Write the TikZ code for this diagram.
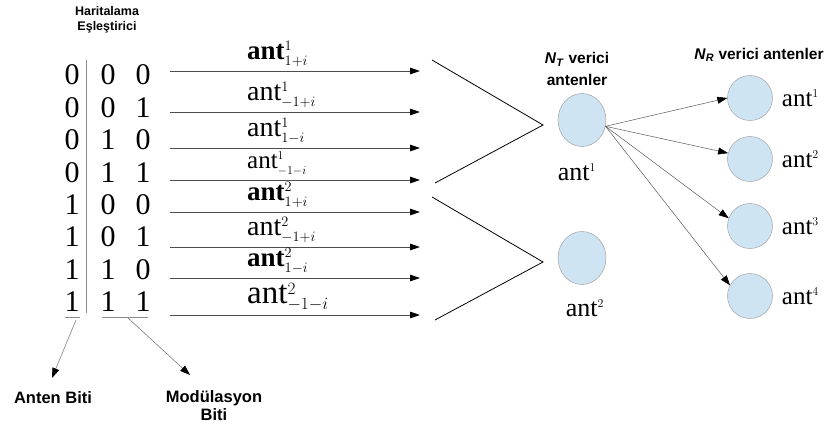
\documentclass[tikz,border=0pt]{standalone}
\usepackage{fontspec}
\setmainfont{Liberation Serif}
\setsansfont{Liberation Sans}
\usetikzlibrary{arrows.meta,shapes.geometric}

\definecolor{antfill}{RGB}{207,228,242}
\definecolor{antedge}{RGB}{150,150,150}

% antenna symbol with small indices
\newcommand{\antsym}[2]{ant$^{\scriptscriptstyle #1}_{\scriptscriptstyle #2}$}
\newcommand{\antup}[1]{ant$^{\scriptscriptstyle #1}$}

\tikzset{
  title/.style={font=\sffamily\bfseries\fontsize{12.5}{15}\selectfont, align=center, inner sep=0pt},
  head/.style={font=\sffamily\bfseries\fontsize{15.5}{22}\selectfont, align=center, inner sep=0pt},
  note/.style={font=\sffamily\bfseries\fontsize{16.5}{18}\selectfont, align=center, inner sep=0pt},
  bit/.style={font=\fontsize{30}{30}\selectfont, inner sep=0pt},
  lab/.style={font=\fontsize{28}{28}\selectfont, inner sep=0pt},
  labbold/.style={font=\fontsize{27}{27}\selectfont\bfseries, inner sep=0pt},
  labsmall/.style={font=\fontsize{25}{25}\selectfont, inner sep=0pt},
  labbig/.style={font=\fontsize{33}{33}\selectfont, inner sep=0pt},
  antname/.style={font=\fontsize{26}{26}\selectfont, inner sep=0pt},
  txant/.style={ellipse, draw=antedge, fill=antfill, minimum width=48pt, minimum height=53pt},
  rxant/.style={circle, draw=antedge, fill=antfill, minimum size=45pt, inner sep=0pt},
  bar/.style={draw=black!45, line width=1pt},
  maparrow/.style={draw=black!70, line width=0.8pt, -{Triangle[length=10pt,width=6.5pt,black]}},
  fanarrow/.style={draw=black!65, line width=0.5pt, -{Triangle[length=10pt,width=7pt,black]}},
  pointer/.style={draw=black!50, line width=0.6pt, -{Triangle[length=10pt,width=7pt,black]}},
  vline/.style={draw=black, line width=0.8pt}
}

\begin{document}
\begin{tikzpicture}[x=1pt,y=-1pt]
  \useasboundingbox (0,0) rectangle (826,425);

  % Mapper title
  \node[title] (mapper) at (107,20) {Haritalama\\Eşleştirici};

  % Bit table (antenna bit | modulation bits)
  \foreach \k/\a/\b/\c in {0/0/0/0,1/0/0/1,2/0/1/0,3/0/1/1,4/1/0/0,5/1/0/1,6/1/1/0,7/1/1/1} {
    \node[bit] (bit-\k-0) at (72,{75+32.4*\k}) {\a};
    \node[bit] (bit-\k-1) at (108,{75+32.4*\k}) {\b};
    \node[bit] (bit-\k-2) at (143,{75+32.4*\k}) {\c};
  }
  \draw[bar] (86,60) -- (86,313);
  \draw[bar] (65,317) -- (80,317);
  \draw[bar] (102,317) -- (148,317);

  % Pointers to the bit groups
  \coordinate (ua) at (76,320);
  \coordinate (um) at (128,318);
  \coordinate (uatip) at (52,378);
  \coordinate (umtip) at (190,375);
  \node[note] (antbit) at (53,398) {Anten Biti};
  \node[note] (modbit) at (214,406) {Modülasyon\\Biti};
  \draw[pointer] (ua) -- (uatip);
  \draw[pointer] (um) -- (umtip);

  % Mapped symbols
  \foreach \k/\ya/\sty/\txt in {
      0/71/labbold/{\antsym{1}{1+i}},
      1/112/lab/{\antsym{1}{-1+i}},
      2/148/lab/{\antsym{1}{1-i}},
      3/180/labsmall/{\antsym{1}{-1-i}},
      4/212/labbold/{\antsym{2}{1+i}},
      5/247/lab/{\antsym{2}{-1+i}},
      6/278/labbold/{\antsym{2}{1-i}},
      7/315/labbig/{\antsym{2}{-1-i}}} {
    \coordinate (s-\k) at (170,\ya);
    \coordinate (e-\k) at (420,\ya);
    \draw[maparrow] (s-\k) -- (e-\k);
    \node[\sty, anchor=base west] (sym-\k) at (247,{\ya-11.5}) {\txt};
  }

  % Grouping towards the transmit antennas
  \coordinate (v1a) at (432,60);
  \coordinate (v1c) at (543,125);
  \coordinate (v1b) at (435,183);
  \coordinate (v2a) at (432,197);
  \coordinate (v2c) at (543,262);
  \coordinate (v2b) at (435,320);
  \draw[vline] (v1a) -- (v1c) -- (v1b);
  \draw[vline] (v2a) -- (v2c) -- (v2b);

  % Transmit antennas
  \node[head] (nt) at (577,69) {\textit{N}\textsubscript{\textit{T}} verici\\antenler};
  \node[txant] (tx1) at (582,120) {};
  \node[txant] (tx2) at (582,258) {};
  \node[antname] (tx1-lab) at (577,172) {\antup{1}};
  \node[antname] (tx2-lab) at (585,308) {\antup{2}};

  % Receive antennas
  \node[head] (nr) at (759,55) {\textit{N}\textsubscript{\textit{R}} verici antenler};
  \foreach \k/\y in {1/98,2/159,3/226,4/296} {
    \node[rxant] (rx\k) at (750,\y) {};
    \node[antname, anchor=west, font=\fontsize{25}{25}\selectfont] (rx\k-lab) at ([xshift=9pt]rx\k.east) {\antup{\k}};
  }
  \draw[fanarrow] (tx1.-15) -- (rx1.west);
  \draw[fanarrow] (tx1.-15) -- (rx2.165);
  \draw[fanarrow] (tx1.-15) -- (rx3.160);
  \draw[fanarrow] (tx1.-15) -- (rx4.152);
\end{tikzpicture}
\end{document}
